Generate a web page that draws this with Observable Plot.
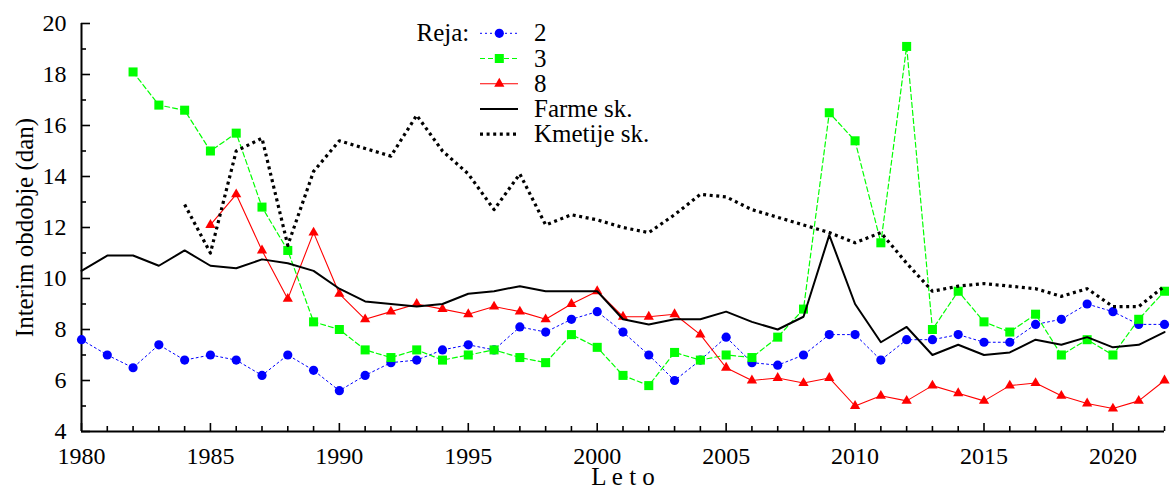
<!DOCTYPE html>
<html>
<head>
<meta charset="utf-8">
<script src="https://cdn.jsdelivr.net/npm/d3@7"></script>
<script src="https://cdn.jsdelivr.net/npm/@observablehq/plot@0.6"></script>
<style>
  html, body { margin: 0; padding: 0; background: #fff; }
  #wrap { position: relative; width: 1173px; height: 488px; font-family: "Liberation Serif", serif; }
  #legend { position: absolute; left: 0; top: 0; pointer-events: none; }
</style>
</head>
<body>
<div id="wrap"></div>
<script>
const years = [1980,1981,1982,1983,1984,1985,1986,1987,1988,1989,1990,1991,1992,1993,1994,1995,1996,1997,1998,1999,2000,2001,2002,2003,2004,2005,2006,2007,2008,2009,2010,2011,2012,2013,2014,2015,2016,2017,2018,2019,2020,2021,2022];

const reja2 = [7.6,7.0,6.5,7.4,6.8,7.0,6.8,6.2,7.0,6.4,5.6,6.2,6.7,6.8,7.2,7.4,7.2,8.1,7.9,8.4,8.7,7.9,7.0,6.0,6.8,7.7,6.7,6.6,7.0,7.8,7.8,6.8,7.6,7.6,7.8,7.5,7.5,8.2,8.4,9.0,8.7,8.2,8.2];
const reja3 = [null,null,18.1,16.8,16.6,15.0,15.7,12.8,11.1,8.3,8.0,7.2,6.9,7.2,6.8,7.0,7.2,6.9,6.7,7.8,7.3,6.2,5.8,7.1,6.8,7.0,6.9,7.7,8.8,16.5,15.4,11.4,19.1,8.0,9.5,8.3,7.9,8.6,7.0,7.6,7.0,8.4,9.5];
const reja8 = [null,null,null,null,null,12.1,13.3,11.1,9.2,11.8,9.4,8.4,8.7,9.0,8.8,8.6,8.9,8.7,8.4,9.0,9.5,8.5,8.5,8.6,7.8,6.5,6.0,6.1,5.9,6.1,5.0,5.4,5.2,5.8,5.5,5.2,5.8,5.9,5.4,5.1,4.9,5.2,6.0];
const farme = [10.3,10.9,10.9,10.5,11.1,10.5,10.4,10.75,10.6,10.3,9.6,9.1,9.0,8.9,9.0,9.4,9.5,9.7,9.5,9.5,9.5,8.4,8.2,8.4,8.4,8.7,8.3,8.0,8.5,11.7,9.0,7.5,8.1,7.0,7.4,7.0,7.1,7.6,7.4,7.7,7.3,7.4,7.9];
const kmetije = [null,null,null,null,12.9,11.0,15.0,15.5,11.3,14.2,15.4,15.1,14.8,16.4,15.0,14.1,12.7,14.1,12.1,12.5,12.3,12.0,11.8,12.5,13.3,13.2,12.7,12.4,12.1,11.8,11.4,11.8,10.6,9.5,9.7,9.8,9.7,9.6,9.3,9.6,8.9,8.9,9.7];

const yMajorTicks = [4,6,8,10,12,14,16,18,20];
const yMinorTicks = [5,7,9,11,13,15,17,19];
const xMajorTicks = [1980,1985,1990,1995,2000,2005,2010,2015,2020];
const xMinorTicks = [1981,1982,1983,1984,1986,1987,1988,1989,1991,1992,1993,1994,1996,1997,1998,1999,2001,2002,2003,2004,2006,2007,2008,2009,2011,2012,2013,2014,2016,2017,2018,2019,2021,2022];

const legendLabels = ["2","3","8","Farme sk.","Kmetije sk."];
const legendTitle = "Reja:";
const xTitle = "L e t o";
const yTitle = "Interim obdobje (dan)";

const rows = arr => years.map((year, i) => ({year, v: arr[i]}));
const d2 = rows(reja2), d3s = rows(reja3), d8 = rows(reja8), dF = rows(farme), dK = rows(kmetije);

const BLUE = "#0000ff", GREEN = "#00ff00", RED = "#ff0000";
const SERIF = "'Liberation Serif', serif";

const chart = Plot.plot({
  width: 1173,
  height: 488,
  marginLeft: 81,
  marginRight: 9,
  marginTop: 23,
  marginBottom: 57,
  x: {domain: [1980, 2022], label: null},
  y: {domain: [4, 20], label: null},
  style: {fontFamily: SERIF, fontSize: "24px", color: "#000", background: "#fff", overflow: "visible"},
  marks: [
    Plot.axisY(yMajorTicks, {tickSize: -9, tickPadding: 24, strokeWidth: 1.6, label: null, fontSize: 24, fontFamily: SERIF}),
    Plot.axisY(yMinorTicks, {tickSize: -5, tickPadding: 0, strokeWidth: 1.6, label: null, tickFormat: () => ""}),
    Plot.axisX(xMajorTicks, {tickSize: -8, tickPadding: 23, strokeWidth: 1.6, label: null, fontSize: 24, fontFamily: SERIF, tickFormat: d => String(d)}),
    Plot.axisX(xMinorTicks, {tickSize: -5, tickPadding: 0, strokeWidth: 1.6, label: null, tickFormat: () => ""}),
    Plot.ruleX([1980], {stroke: "#000", strokeWidth: 2}),
    Plot.ruleY([4], {stroke: "#000", strokeWidth: 2}),
    // Reja 2
    Plot.line(d2, {x: "year", y: "v", stroke: BLUE, strokeWidth: 1, strokeDasharray: "2,3"}),
    Plot.dot(d2, {x: "year", y: "v", fill: BLUE, r: 4.6, symbol: "circle"}),
    // Reja 3
    Plot.line(d3s, {x: "year", y: "v", stroke: GREEN, strokeWidth: 1.2, strokeDasharray: "5,3"}),
    Plot.dot(d3s, {x: "year", y: "v", fill: GREEN, r: 5.1, symbol: "square"}),
    // Reja 8
    Plot.line(d8, {x: "year", y: "v", stroke: RED, strokeWidth: 1.1}),
    Plot.dot(d8, {x: "year", y: "v", fill: RED, r: 3.8, symbol: "triangle"}),
    // Farme
    Plot.line(dF, {x: "year", y: "v", stroke: "#000", strokeWidth: 2}),
    // Kmetije
    Plot.line(dK, {x: "year", y: "v", stroke: "#000", strokeWidth: 3.2, strokeDasharray: "3,3.6", strokeLinecap: "butt"}),
    // titles
    Plot.text([yTitle], {text: d => d, frameAnchor: "left", dx: -57, rotate: -90, fontSize: 25, fontFamily: SERIF, textAnchor: "middle", lineAnchor: "middle", fill: "#000"}),
    Plot.text([xTitle], {text: d => d, frameAnchor: "bottom", dy: 45, fontSize: 25, fontFamily: SERIF, textAnchor: "middle", lineAnchor: "middle", fill: "#000"})
  ]
});

const wrap = document.getElementById("wrap");
wrap.appendChild(chart);

// Legend (inside the plot area, upper middle)
const lg = d3.select(wrap).append("svg")
  .attr("id", "legend")
  .attr("width", 1173).attr("height", 488)
  .style("font-family", SERIF)
  .style("font-size", "25px");

const rowY0 = 33.3, rowStep = 25.2;
const sw0 = 480, sw1 = 518, swM = 499.3, textX = 534;
lg.append("text").attr("x", 416.5).attr("y", rowY0 + 8).attr("fill", "#000").text(legendTitle);

const styles = [
  {stroke: BLUE, width: 1, dash: "2,3", sym: d3.symbolCircle, size: Math.PI * 4.6 * 4.6, fill: BLUE},
  {stroke: GREEN, width: 1.2, dash: "5,3", sym: d3.symbolSquare, size: Math.PI * 5.1 * 5.1, fill: GREEN},
  {stroke: RED, width: 1.1, dash: null, sym: d3.symbolTriangle, size: Math.PI * 3.8 * 3.8, fill: RED},
  {stroke: "#000", width: 2, dash: null, sym: null},
  {stroke: "#000", width: 3.2, dash: "3,3.6", sym: null}
];
legendLabels.forEach((lab, i) => {
  const cy = rowY0 + i * rowStep;
  const s = styles[i];
  const ln = lg.append("line").attr("x1", sw0).attr("x2", sw1).attr("y1", cy).attr("y2", cy)
    .attr("stroke", s.stroke).attr("stroke-width", s.width);
  if (s.dash) ln.attr("stroke-dasharray", s.dash);
  if (s.sym) {
    lg.append("path").attr("d", d3.symbol(s.sym, s.size)()).attr("transform", `translate(${swM},${cy})`).attr("fill", s.fill);
  }
  lg.append("text").attr("x", textX).attr("y", cy + 8).attr("fill", "#000").text(lab);
});
</script>
</body>
</html>
